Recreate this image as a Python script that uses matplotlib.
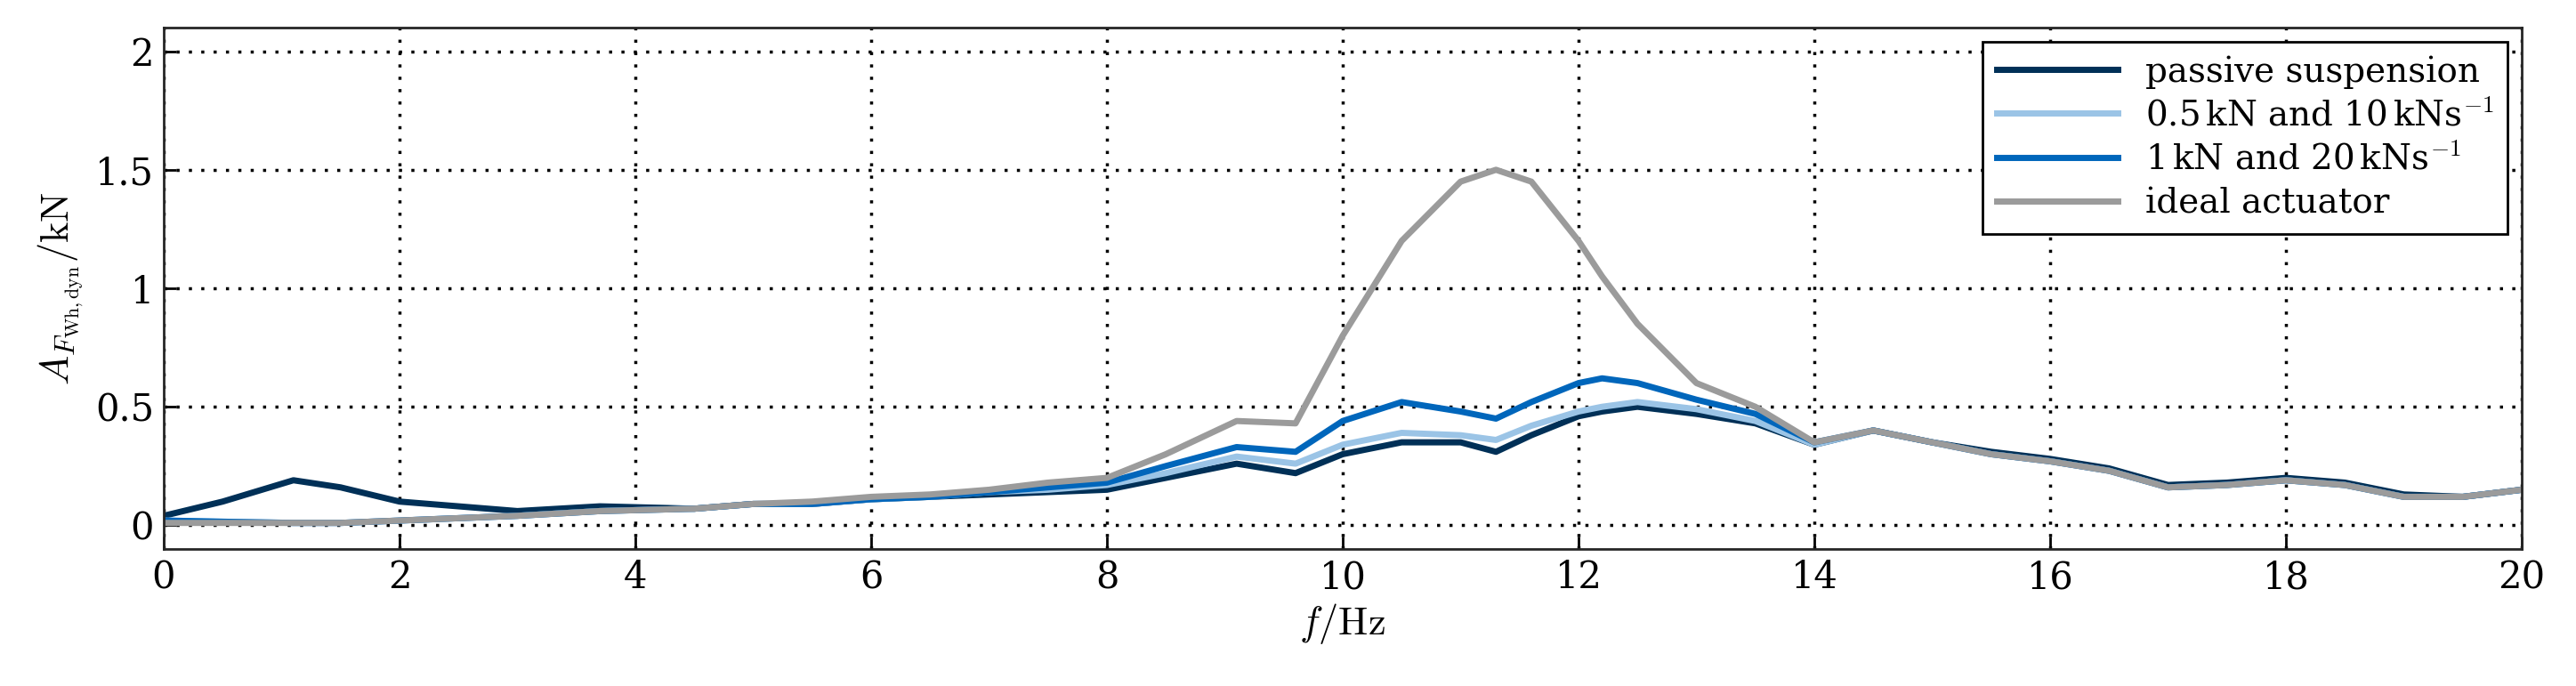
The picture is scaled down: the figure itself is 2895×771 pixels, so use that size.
import matplotlib
matplotlib.use("Agg")
import matplotlib.pyplot as plt

plt.rcParams['font.family'] = 'DejaVu Serif'
plt.rcParams['mathtext.fontset'] = 'cm'
plt.rcParams['font.size'] = 26

f = [0, 0.5, 1.1, 1.5, 2, 2.5, 3, 3.7, 4.5, 5, 5.5, 6, 6.5, 7, 7.5, 8, 8.5, 9.1, 9.6, 10, 10.5, 11, 11.3, 11.6, 12, 12.2, 12.5, 13, 13.5, 14, 14.5, 15, 15.5, 16, 16.5, 17, 17.5, 18, 18.5, 19, 19.5, 20]
passive = [0.04, 0.10, 0.19, 0.16, 0.10, 0.08, 0.06, 0.08, 0.07, 0.09, 0.09, 0.11, 0.12, 0.13, 0.14, 0.15, 0.20, 0.26, 0.22, 0.30, 0.35, 0.35, 0.31, 0.38, 0.46, 0.48, 0.50, 0.47, 0.43, 0.34, 0.40, 0.35, 0.31, 0.28, 0.24, 0.17, 0.18, 0.20, 0.18, 0.13, 0.12, 0.15]
act05 = [0.02, 0.015, 0.01, 0.01, 0.02, 0.03, 0.04, 0.06, 0.07, 0.09, 0.09, 0.11, 0.12, 0.14, 0.15, 0.17, 0.22, 0.29, 0.26, 0.34, 0.39, 0.38, 0.36, 0.42, 0.48, 0.50, 0.52, 0.49, 0.44, 0.34, 0.40, 0.35, 0.30, 0.27, 0.23, 0.16, 0.17, 0.19, 0.17, 0.12, 0.12, 0.15]
act1 = [0.02, 0.015, 0.01, 0.01, 0.02, 0.03, 0.04, 0.06, 0.07, 0.09, 0.09, 0.11, 0.12, 0.14, 0.16, 0.18, 0.25, 0.33, 0.31, 0.44, 0.52, 0.48, 0.45, 0.52, 0.60, 0.62, 0.60, 0.53, 0.47, 0.35, 0.40, 0.35, 0.30, 0.27, 0.23, 0.16, 0.17, 0.19, 0.17, 0.12, 0.12, 0.15]
ideal = [0.01, 0.01, 0.01, 0.01, 0.02, 0.03, 0.04, 0.06, 0.07, 0.09, 0.10, 0.12, 0.13, 0.15, 0.18, 0.20, 0.30, 0.44, 0.43, 0.80, 1.20, 1.45, 1.50, 1.45, 1.20, 1.05, 0.85, 0.60, 0.50, 0.35, 0.40, 0.35, 0.30, 0.27, 0.23, 0.16, 0.17, 0.19, 0.17, 0.12, 0.12, 0.15]

labels = ['passive suspension', r'0.5$\,$kN and 10$\,$kNs$^{-1}$', r'1$\,$kN and 20$\,$kNs$^{-1}$', 'ideal actuator']
colors = ['#003057', '#9BC4E6', '#0066BB', '#9B9B9B']

fig = plt.figure(figsize=(28.95, 7.71), dpi=100)
ax = fig.add_axes([184/2895, 1 - 617/771, (2834-184)/2895, (617-31)/771])
for y, c, l in zip([passive, act05, act1, ideal], colors, labels):
    ax.plot(f, y, color=c, lw=5, label=l, solid_joinstyle='round')
ax.set_xlim(0, 20)
ax.set_ylim(-0.1, 2.1)
ax.set_xticks(range(0, 21, 2))
ax.set_yticks([0, 0.5, 1, 1.5, 2])
ax.set_yticklabels(['0', '0.5', '1', '1.5', '2'])
ax.grid(True, color='black', linestyle=(0, (1, 3)), lw=2.5)
for s in ax.spines.values():
    s.set_linewidth(2)
    s.set_color('#262626')
ax.tick_params(direction='in', length=10, width=2, labelsize=30, pad=8)
ax.set_xlabel(r'$f/\mathrm{Hz}$', fontsize=32, labelpad=4)
ax.set_ylabel(r'$A_{F_{\mathrm{Wh,dyn}}}/\mathrm{kN}$', fontsize=32, labelpad=8)
leg = ax.legend(loc='upper right', fontsize=28, fancybox=False, edgecolor='black',
                framealpha=1, borderaxespad=0.4, handlelength=3.5, labelspacing=0.3)
leg.get_frame().set_linewidth(2)
fig.savefig('out.png', dpi=100)
